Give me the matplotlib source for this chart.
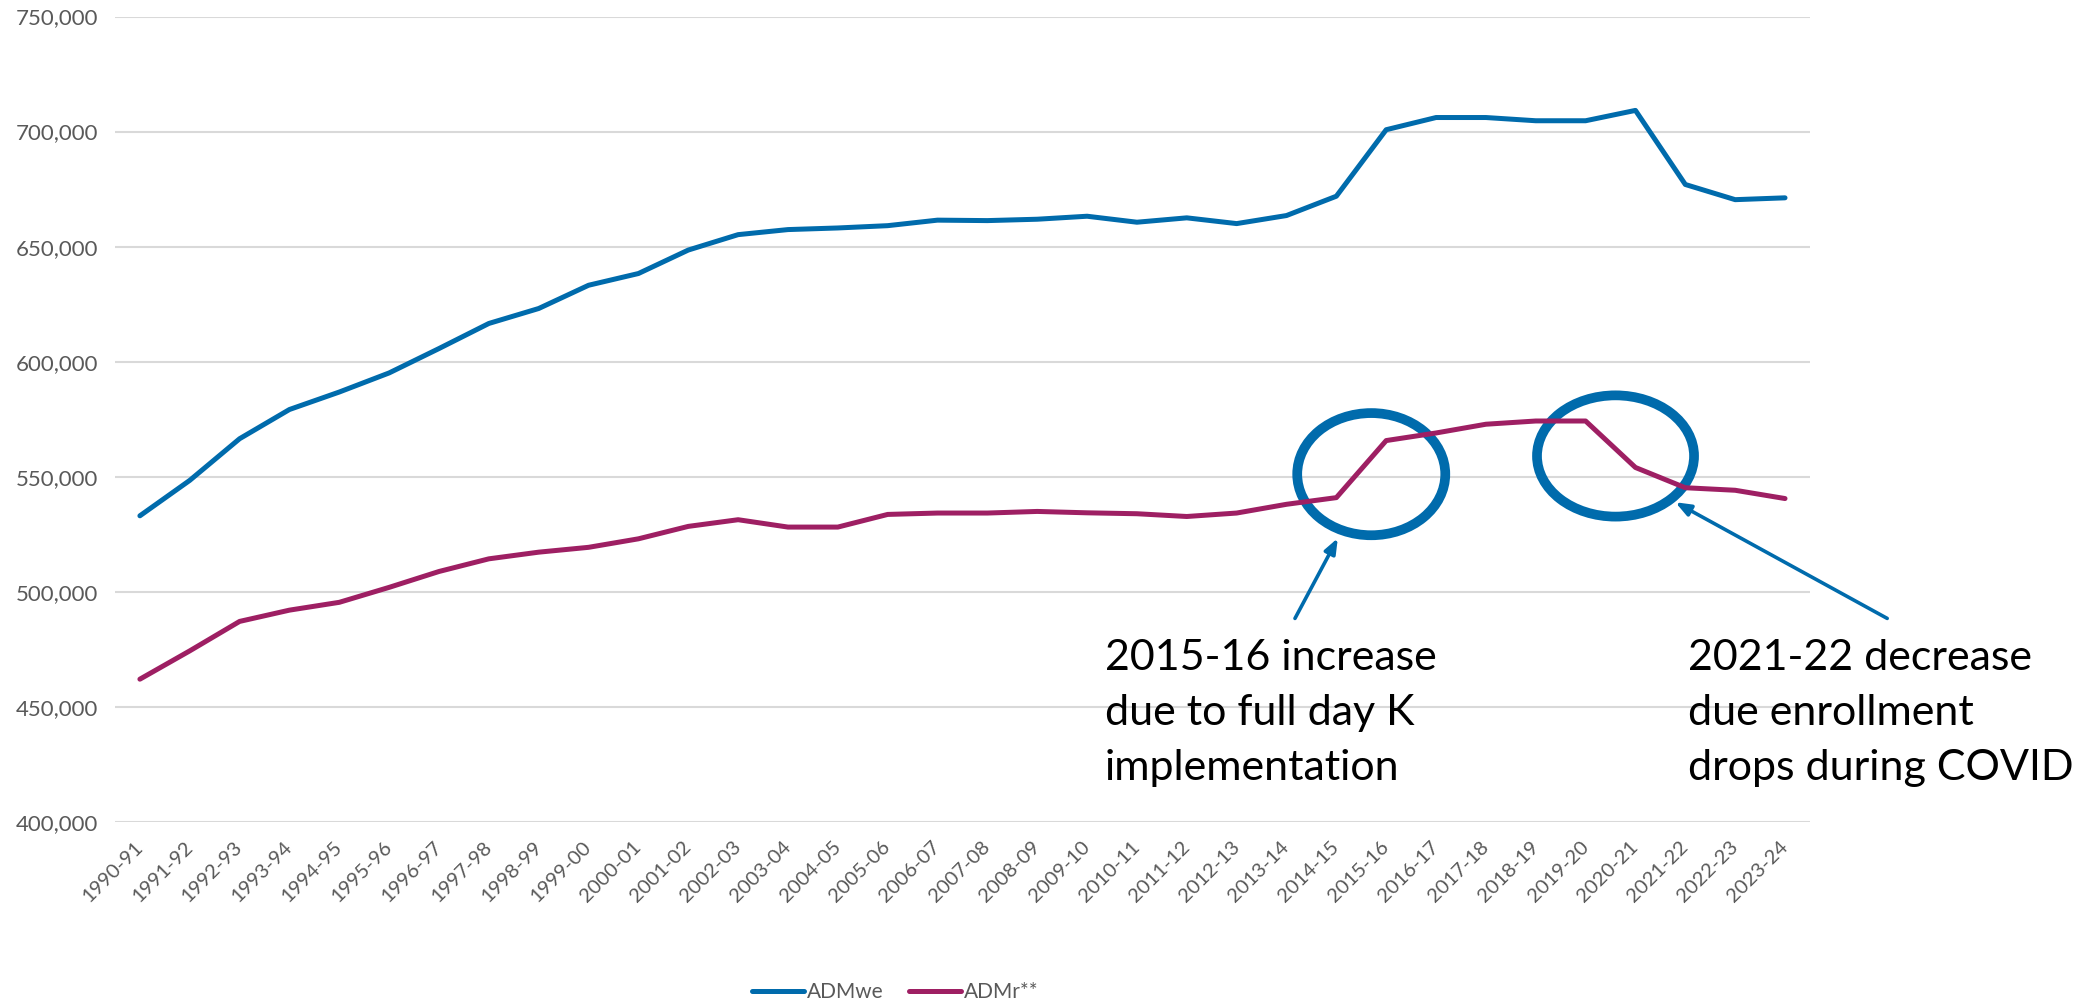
import matplotlib
matplotlib.use("agg")
import matplotlib.pyplot as plt
from matplotlib.patches import Ellipse
from matplotlib.ticker import FuncFormatter

years = ["1990-91", "1991-92", "1992-93", "1993-94", "1994-95", "1995-96", "1996-97",
         "1997-98", "1998-99", "1999-00", "2000-01", "2001-02", "2002-03", "2003-04",
         "2004-05", "2005-06", "2006-07", "2007-08", "2008-09", "2009-10", "2010-11",
         "2011-12", "2012-13", "2013-14", "2014-15", "2015-16", "2016-17", "2017-18",
         "2018-19", "2019-20", "2020-21", "2021-22", "2022-23", "2023-24"]

adm_we = [533000, 548400, 566500, 579200, 586800, 595100, 605700, 616600, 623100, 633200,
          638300, 648500, 655200, 657400, 658100, 659100, 661500, 661300, 661900, 663200,
          660600, 662500, 660000, 663500, 671900, 700800, 706100, 706100, 704700, 704700,
          709200, 677000, 670400, 671200]

adm_r = [462000, 474300, 487100, 492000, 495400, 501900, 508800, 514300, 517200, 519300,
         523000, 528400, 531300, 528100, 528100, 533600, 534200, 534200, 534900, 534300,
         533900, 532700, 534200, 538000, 540900, 565700, 569000, 572800, 574200, 574200,
         554000, 545200, 544100, 540500]

note_increase = "2015-16 increase\ndue to full day K\nimplementation"
note_decrease = "2021-22 decrease\ndue enrollment\ndrops during COVID"

BLUE = "#006BAC"
MAGENTA = "#9E1F63"
GREY = "#595959"

plt.rcParams['font.family'] = ['Lato', 'DejaVu Sans']

fig = plt.figure(figsize=(20.98, 10.01), dpi=100)
ax = fig.add_axes([0.0548, 0.179, 0.8079, 0.8045])

x = list(range(len(years)))
ax.plot(x, adm_we, color=BLUE, lw=3.6, label="ADMwe", solid_capstyle="round")
ax.plot(x, adm_r, color=MAGENTA, lw=3.6, label="ADMr**", solid_capstyle="round")

ax.set_xlim(-0.5, len(years) - 0.5)
ax.set_ylim(400000, 750000)
ax.set_yticks(range(400000, 750001, 50000))
ax.yaxis.set_major_formatter(FuncFormatter(lambda v, p: f"{int(v):,}"))
ax.set_xticks(x)
ax.set_xticklabels(years, rotation=45, ha="right", va="center", rotation_mode="anchor")
ax.tick_params(axis="x", length=0, pad=16, labelsize=14.5, labelcolor=GREY)
ax.tick_params(axis="y", length=0, pad=12, labelsize=16, labelcolor=GREY)
ax.grid(axis="y", color="#D9D9D9", lw=1.5)
ax.set_axisbelow(True)
for s in ax.spines.values():
    s.set_visible(False)

# circles round the two jumps
for cx, cy, w, h in [(24.7, 551100, 2.97, 53100), (29.6, 559000, 3.15, 52700)]:
    ax.add_patch(Ellipse((cx, cy), w, h, fill=False, ec=BLUE, lw=7, clip_on=False))

arrow = dict(arrowstyle="-|>,head_length=0.9,head_width=0.35", color=BLUE, lw=2.6,
             shrinkA=0, shrinkB=0)
ax.annotate("", xy=(24.03, 523300), xytext=(23.17, 488400), arrowprops=arrow,
            annotation_clip=False)
ax.annotate("", xy=(30.8, 538900), xytext=(35.05, 488400), arrowprops=arrow,
            annotation_clip=False)

ax.text(19.36, 479500, note_increase, fontsize=31, va="top", ha="left",
        linespacing=1.55, color="black")
ax.text(31.05, 479500, note_decrease, fontsize=31, va="top", ha="left",
        linespacing=1.55, color="black", clip_on=False)

fig.legend(loc="center", bbox_to_anchor=(0.4266, 0.0085), ncol=2, frameon=False,
           fontsize=15, labelcolor=GREY, handlelength=2.5, handletextpad=0.15,
           columnspacing=1.2, borderaxespad=0)

fig.savefig("out.png", dpi=100)
